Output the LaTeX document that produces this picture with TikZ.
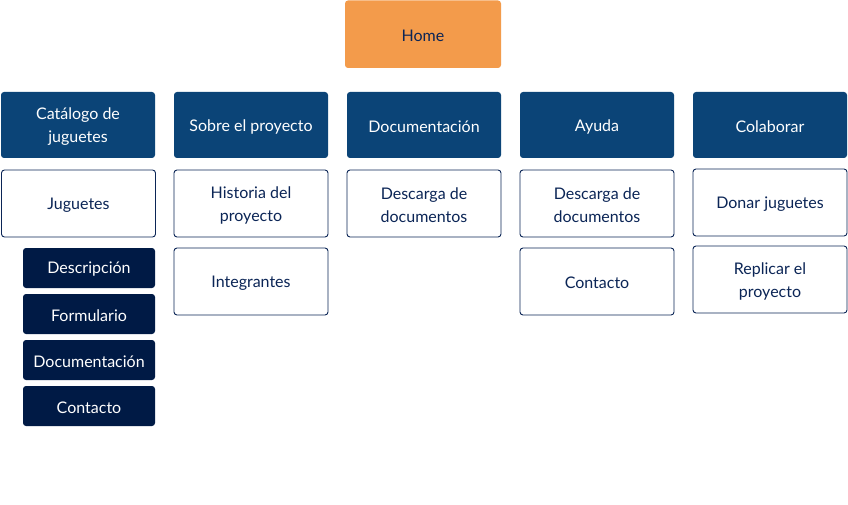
\documentclass[tikz,border=0pt]{standalone}
\usepackage{fontspec}
\setmainfont{Lato}
\definecolor{orangeH}{HTML}{F39B4B}
\definecolor{blueH}{HTML}{0B4477}
\definecolor{navyT}{HTML}{0B2556}
\definecolor{navyB}{HTML}{001A45}
\begin{document}
\begin{tikzpicture}[x=1pt,y=-1pt,
  box/.style={rounded corners=3pt,align=center,font=\fontsize{16}{23}\selectfont},
  homebox/.style={box,fill=orangeH,text=navyT},
  secbox/.style={box,fill=blueH,text=white},
  pagebox/.style={box,fill=white,draw=navyT,line width=0.9pt,text=navyT},
  subbox/.style={box,fill=navyB,text=white}]
\useasboundingbox (0,0) rectangle (848,505);
% Home
\path[homebox] (345,0.5) rectangle (501,68);
\node[box,text=navyT] (home) at (423,35.5) {Home};
% Row 1
\path[secbox] (1,92) rectangle (155,158);
\node[box,text=white] (cat) at (78,126.5) {Catálogo de\\juguetes};
\path[secbox] (174,92) rectangle (328,158);
\node[box,text=white] (sobre) at (251,126.5) {Sobre el proyecto};
\path[secbox] (347,92) rectangle (501,158);
\node[box,text=white] (doc) at (424,126.5) {Documentación};
\path[secbox] (520,92) rectangle (674,158);
\node[box,text=white] (ayuda) at (597,126.5) {Ayuda};
\path[secbox] (693,92) rectangle (847,158);
\node[box,text=white] (colab) at (770,126.5) {Colaborar};
% Row 2
\path[pagebox] (1.5,170) rectangle (155.5,237);
\node[box,text=navyT] (jug) at (78.5,205) {Juguetes};
\path[pagebox] (174,170) rectangle (328,237);
\node[box,text=navyT] (hist) at (251,205) {Historia del\\proyecto};
\path[pagebox] (347,170) rectangle (501,237);
\node[box,text=navyT] (desc1) at (424,205) {Descarga de\\documentos};
\path[pagebox] (520,170) rectangle (674,237);
\node[box,text=navyT] (desc2) at (597,205) {Descarga de\\documentos};
\path[pagebox] (693,169) rectangle (847,236);
\node[box,text=navyT] (donar) at (770,204) {Donar juguetes};
% Row 3
\path[pagebox] (174,248) rectangle (328,315);
\node[box,text=navyT] (integ) at (251,283) {Integrantes};
\path[pagebox] (520,248) rectangle (674,315);
\node[box,text=navyT] (cont2) at (597,283) {Contacto};
\path[pagebox] (693,246) rectangle (847,313);
\node[box,text=navyT] (repl) at (770,281) {Replicar el\\proyecto};
% Sub boxes
\path[subbox] (23,248) rectangle (155,288);
\node[box,text=white] (descr) at (89,269.5) {Descripción};
\path[subbox] (23,294) rectangle (155,334);
\node[box,text=white] (form) at (89,315.5) {Formulario};
\path[subbox] (23,340) rectangle (155,380);
\node[box,text=white] (sdoc) at (89,361.5) {Documentación};
\path[subbox] (23,386) rectangle (155,426);
\node[box,text=white] (scont) at (89,407.5) {Contacto};
\end{tikzpicture}
\end{document}
